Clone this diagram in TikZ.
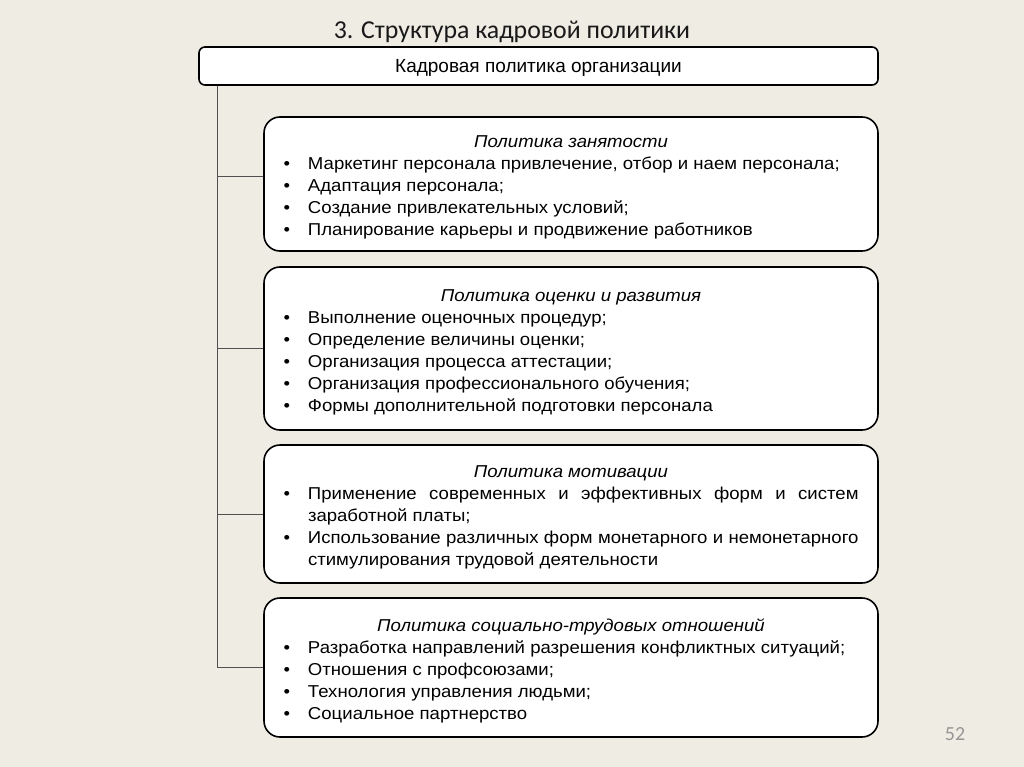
\documentclass[tikz,border=0pt]{standalone}
\usepackage{fontspec}
\usepackage{tikz}
\setmainfont{Liberation Sans}[FakeStretch=1.08]
\newfontfamily\hdrfont{Liberation Sans}
\newfontfamily\slidefont{Carlito}
\definecolor{slidebg}{RGB}{238,236,227}
\definecolor{trunkgray}{RGB}{80,80,80}
\definecolor{pagegray}{RGB}{150,150,150}
\newcommand{\pitem}[1]{\par\hangindent=24.5pt\hangafter=1\noindent\makebox[24.5pt][l]{\textbullet}#1\par}
\newcommand{\ptitle}[1]{\noindent\makebox[\hsize]{\rule{0pt}{19pt}\itshape #1}\par}

\begin{document}
\begin{tikzpicture}[x=1pt, y=-1pt,
    hdr/.style={draw, line width=1.6pt, fill=white, rounded corners=6pt, minimum width=679pt, minimum height=38pt},
    box/.style={draw, line width=1.6pt, fill=white, rounded corners=16pt, minimum width=614pt, text width=575pt, inner xsep=19.5pt, align=justify, font=\fontsize{17.2}{22}\selectfont},
    branch/.style={draw=trunkgray, line width=0.9pt}]
    \useasboundingbox[fill=slidebg] (0,0) rectangle (1024,767);
    % Title
    \node[font=\slidefont\fontsize{25.8}{30}\selectfont, text=black!90, anchor=base] (title) at (512,39) {3. Структура кадровой политики};
    \node[hdr] (org) at (538.5,66) {};
    \node[font=\hdrfont\fontsize{19}{22}\selectfont, anchor=base] (orgtext) at (org.center |- 0,73) {Кадровая политика организации};
    % Boxes
    \node[box, minimum height=134pt] (employ) at (571,184) {\ptitle{Политика занятости}
        \pitem{Маркетинг персонала привлечение, отбор и наем персонала;}
        \pitem{Адаптация персонала;}
        \pitem{Создание привлекательных условий;}
        \pitem{Планирование карьеры и продвижение работников}};
    \node[box, minimum height=163pt] (assess) at (571,348.5) {\ptitle{Политика оценки и развития}
        \pitem{Выполнение оценочных процедур;}
        \pitem{Определение величины оценки;}
        \pitem{Организация процесса аттестации;}
        \pitem{Организация профессионального обучения;}
        \pitem{Формы дополнительной подготовки персонала}};
    \node[box, minimum height=138pt] (motiv) at (571,514) {\ptitle{Политика мотивации}
        \pitem{Применение современных и эффективных форм и систем\linebreak заработной платы;}
        \pitem{Использование различных форм монетарного и немонетарного\linebreak стимулирования трудовой деятельности}};
    \node[box, minimum height=139pt] (social) at (571,667.5) {\ptitle{Политика социально-трудовых отношений}
        \pitem{Разработка направлений разрешения конфликтных ситуаций;}
        \pitem{Отношения с профсоюзами;}
        \pitem{Технология управления людьми;}
        \pitem{Социальное партнерство}};
    % Lines
    \coordinate (trunk) at (org.south -| 217,0);
    \draw[branch] (trunk) |- (social.west);
    \draw[branch] (trunk |- employ.west) ++(0,-8) -- ([yshift=8pt]employ.west);
    \draw[branch] (trunk |- assess.west) -- (assess.west);
    \draw[branch] (trunk |- motiv.west) -- (motiv.west);
    % Page number
    \node[font=\slidefont\fontsize{20}{24}\selectfont, text=pagegray, anchor=base] (page) at (955,740) {52};
\end{tikzpicture}
\end{document}
